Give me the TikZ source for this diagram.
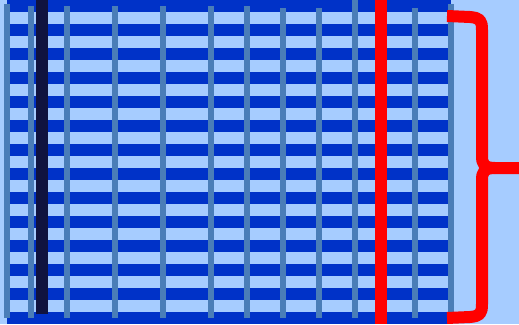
\documentclass[tikz,border=0pt]{standalone}
\definecolor{bgblue}{HTML}{A6CCFF}
\definecolor{darkband}{HTML}{0032C8}
\definecolor{steel}{HTML}{4A7DB8}
\definecolor{navy}{HTML}{10133F}
\tikzset{
  stripe/.style={fill=bgblue},
  post/.style={draw=steel,line width=6pt},
  bracestyle/.style={draw=red,line width=12pt,line join=round}
}
\begin{document}
\begin{tikzpicture}[x=1pt,y=-1pt]
\fill[bgblue] (0,0) rectangle (519,324);
\useasboundingbox (0,0) rectangle (519,324);
\fill[darkband] (7,0) rectangle (451,324);
\foreach \y in {12,36,...,300} \fill[stripe] (7,\y) rectangle (451,\y+12);
\foreach \x/\t in {7/4,31/6,67/6,115/6,163/6,211/6,247/6,283/8,319/8,355/0,415/8,451/4}
  \draw[post] (\x,\t) -- (\x,318);
\fill[navy] (36,0) rectangle (48,314);
\fill[red] (375,0) rectangle (387,324);
\draw[bracestyle] (447,16) -- (470,17) .. controls (480,18) and (482,20) .. (482,30)
  -- (482,156) .. controls (482,164) and (484,168) .. (495,168) -- (525,168);
\draw[bracestyle] (447,318) -- (470,317) .. controls (480,316) and (482,314) .. (482,304)
  -- (482,180) .. controls (482,172) and (484,168) .. (495,168);
\end{tikzpicture}
\end{document}
